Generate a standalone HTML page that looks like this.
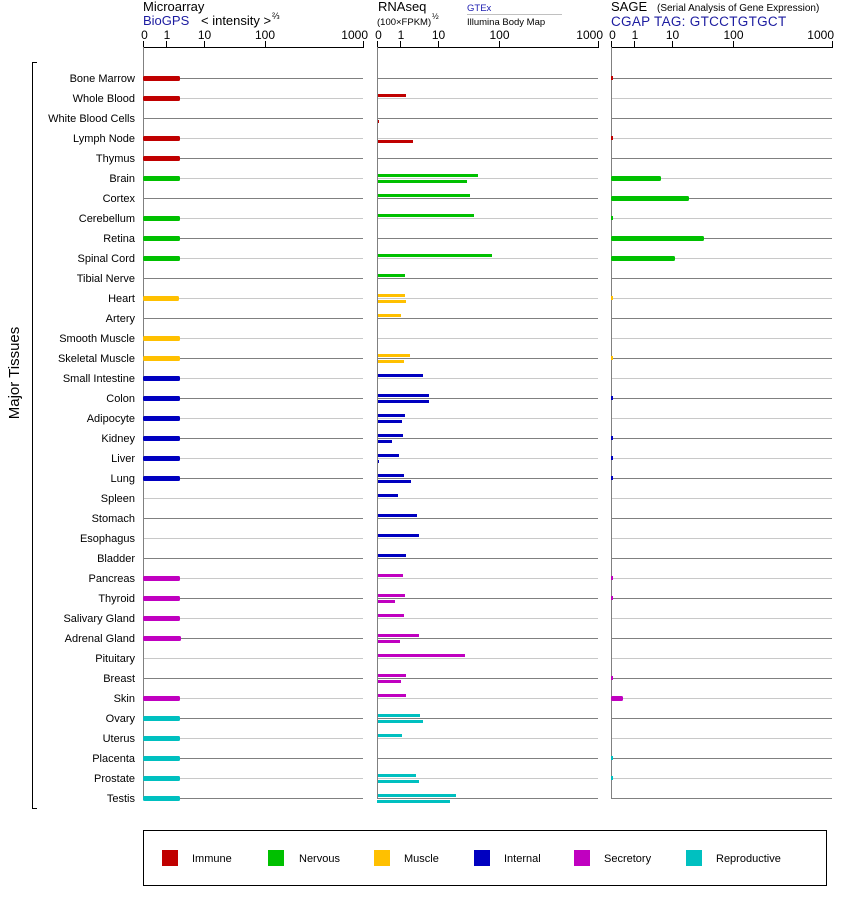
<!DOCTYPE html>
<html><head><meta charset="utf-8"><style>
html,body{margin:0;padding:0;background:#fff;}
svg{display:block;font-family:"Liberation Sans",Arial,sans-serif;}
</style></head><body>
<svg width="842" height="900" viewBox="0 0 842 900" xmlns="http://www.w3.org/2000/svg">
<rect x="0" y="0" width="842" height="900" fill="#fff"/>

<!-- Headers -->
<text x="143" y="11" font-size="13" fill="#000">Microarray</text>
<text x="143" y="25" font-size="13" fill="#1c1ca0">BioGPS</text>
<text x="201" y="25" font-size="13" fill="#000">&lt; intensity &gt;</text>
<text x="272" y="19" font-size="9" fill="#000">⅔</text>

<text x="378" y="11" font-size="13" fill="#000">RNAseq</text>
<text x="377" y="25" font-size="9.5" fill="#000">(100×FPKM)</text>
<text x="432" y="19" font-size="8" fill="#000">½</text>
<text x="467" y="11" font-size="9.5" fill="#1c1cb0">GTEx</text>
<line x1="467" y1="14.5" x2="562" y2="14.5" stroke="#c0c0c0" stroke-width="1"/>
<text x="467" y="25" font-size="9.5" fill="#000">Illumina Body Map</text>

<text x="611" y="11" font-size="13" fill="#000">SAGE</text>
<text x="657" y="11" font-size="10" fill="#000">(Serial Analysis of Gene Expression)</text>
<text x="611" y="26" font-size="13.5" fill="#1c1ca0" letter-spacing="0.3">CGAP TAG: GTCCTGTGCT</text>

<!-- Axes -->
<g stroke="#000" stroke-width="1" fill="none">
  <line x1="143" y1="47.5" x2="363.5" y2="47.5"/>
  <line x1="143.5" y1="41" x2="143.5" y2="48"/>
  <line x1="166.5" y1="41" x2="166.5" y2="48"/>
  <line x1="204.5" y1="41" x2="204.5" y2="48"/>
  <line x1="265.5" y1="41" x2="265.5" y2="48"/>
  <line x1="363.5" y1="41" x2="363.5" y2="48"/>

  <line x1="377" y1="47.5" x2="598.5" y2="47.5"/>
  <line x1="377.5" y1="41" x2="377.5" y2="48"/>
  <line x1="400.5" y1="41" x2="400.5" y2="48"/>
  <line x1="438.5" y1="41" x2="438.5" y2="48"/>
  <line x1="499.5" y1="41" x2="499.5" y2="48"/>
  <line x1="598.5" y1="41" x2="598.5" y2="48"/>

  <line x1="611" y1="47.5" x2="832.5" y2="47.5"/>
  <line x1="611.5" y1="41" x2="611.5" y2="48"/>
  <line x1="634.5" y1="41" x2="634.5" y2="48"/>
  <line x1="672.5" y1="41" x2="672.5" y2="48"/>
  <line x1="733.5" y1="41" x2="733.5" y2="48"/>
  <line x1="832.5" y1="41" x2="832.5" y2="48"/>
</g>
<g font-size="12" fill="#000" text-anchor="middle">
  <text x="144.5" y="39">0</text>
  <text x="167" y="39">1</text>
  <text x="204.5" y="39">10</text>
  <text x="265" y="39">100</text>
  <text x="368" y="39" text-anchor="end">1000</text>
  <text x="378.5" y="39">0</text>
  <text x="401" y="39">1</text>
  <text x="438.5" y="39">10</text>
  <text x="499.5" y="39">100</text>
  <text x="603" y="39" text-anchor="end">1000</text>
  <text x="612.5" y="39">0</text>
  <text x="635" y="39">1</text>
  <text x="672.5" y="39">10</text>
  <text x="733.5" y="39">100</text>
  <text x="834" y="39" text-anchor="end">1000</text>
</g>

<!-- Row lines -->
<g stroke-width="1">
<line x1="143" y1="78.5" x2="363" y2="78.5" stroke="#808080"/><line x1="378" y1="78.5" x2="598" y2="78.5" stroke="#808080"/><line x1="612" y1="78.5" x2="832" y2="78.5" stroke="#808080"/>
<line x1="143" y1="98.5" x2="363" y2="98.5" stroke="#c8c8c8"/><line x1="378" y1="98.5" x2="598" y2="98.5" stroke="#c8c8c8"/><line x1="612" y1="98.5" x2="832" y2="98.5" stroke="#c8c8c8"/>
<line x1="143" y1="118.5" x2="363" y2="118.5" stroke="#808080"/><line x1="378" y1="118.5" x2="598" y2="118.5" stroke="#808080"/><line x1="612" y1="118.5" x2="832" y2="118.5" stroke="#808080"/>
<line x1="143" y1="138.5" x2="363" y2="138.5" stroke="#c8c8c8"/><line x1="378" y1="138.5" x2="598" y2="138.5" stroke="#c8c8c8"/><line x1="612" y1="138.5" x2="832" y2="138.5" stroke="#c8c8c8"/>
<line x1="143" y1="158.5" x2="363" y2="158.5" stroke="#808080"/><line x1="378" y1="158.5" x2="598" y2="158.5" stroke="#808080"/><line x1="612" y1="158.5" x2="832" y2="158.5" stroke="#808080"/>
<line x1="143" y1="178.5" x2="363" y2="178.5" stroke="#c8c8c8"/><line x1="378" y1="178.5" x2="598" y2="178.5" stroke="#c8c8c8"/><line x1="612" y1="178.5" x2="832" y2="178.5" stroke="#c8c8c8"/>
<line x1="143" y1="198.5" x2="363" y2="198.5" stroke="#808080"/><line x1="378" y1="198.5" x2="598" y2="198.5" stroke="#808080"/><line x1="612" y1="198.5" x2="832" y2="198.5" stroke="#808080"/>
<line x1="143" y1="218.5" x2="363" y2="218.5" stroke="#c8c8c8"/><line x1="378" y1="218.5" x2="598" y2="218.5" stroke="#c8c8c8"/><line x1="612" y1="218.5" x2="832" y2="218.5" stroke="#c8c8c8"/>
<line x1="143" y1="238.5" x2="363" y2="238.5" stroke="#808080"/><line x1="378" y1="238.5" x2="598" y2="238.5" stroke="#808080"/><line x1="612" y1="238.5" x2="832" y2="238.5" stroke="#808080"/>
<line x1="143" y1="258.5" x2="363" y2="258.5" stroke="#c8c8c8"/><line x1="378" y1="258.5" x2="598" y2="258.5" stroke="#c8c8c8"/><line x1="612" y1="258.5" x2="832" y2="258.5" stroke="#c8c8c8"/>
<line x1="143" y1="278.5" x2="363" y2="278.5" stroke="#808080"/><line x1="378" y1="278.5" x2="598" y2="278.5" stroke="#808080"/><line x1="612" y1="278.5" x2="832" y2="278.5" stroke="#808080"/>
<line x1="143" y1="298.5" x2="363" y2="298.5" stroke="#c8c8c8"/><line x1="378" y1="298.5" x2="598" y2="298.5" stroke="#c8c8c8"/><line x1="612" y1="298.5" x2="832" y2="298.5" stroke="#c8c8c8"/>
<line x1="143" y1="318.5" x2="363" y2="318.5" stroke="#808080"/><line x1="378" y1="318.5" x2="598" y2="318.5" stroke="#808080"/><line x1="612" y1="318.5" x2="832" y2="318.5" stroke="#808080"/>
<line x1="143" y1="338.5" x2="363" y2="338.5" stroke="#c8c8c8"/><line x1="378" y1="338.5" x2="598" y2="338.5" stroke="#c8c8c8"/><line x1="612" y1="338.5" x2="832" y2="338.5" stroke="#c8c8c8"/>
<line x1="143" y1="358.5" x2="363" y2="358.5" stroke="#808080"/><line x1="378" y1="358.5" x2="598" y2="358.5" stroke="#808080"/><line x1="612" y1="358.5" x2="832" y2="358.5" stroke="#808080"/>
<line x1="143" y1="378.5" x2="363" y2="378.5" stroke="#c8c8c8"/><line x1="378" y1="378.5" x2="598" y2="378.5" stroke="#c8c8c8"/><line x1="612" y1="378.5" x2="832" y2="378.5" stroke="#c8c8c8"/>
<line x1="143" y1="398.5" x2="363" y2="398.5" stroke="#808080"/><line x1="378" y1="398.5" x2="598" y2="398.5" stroke="#808080"/><line x1="612" y1="398.5" x2="832" y2="398.5" stroke="#808080"/>
<line x1="143" y1="418.5" x2="363" y2="418.5" stroke="#c8c8c8"/><line x1="378" y1="418.5" x2="598" y2="418.5" stroke="#c8c8c8"/><line x1="612" y1="418.5" x2="832" y2="418.5" stroke="#c8c8c8"/>
<line x1="143" y1="438.5" x2="363" y2="438.5" stroke="#808080"/><line x1="378" y1="438.5" x2="598" y2="438.5" stroke="#808080"/><line x1="612" y1="438.5" x2="832" y2="438.5" stroke="#808080"/>
<line x1="143" y1="458.5" x2="363" y2="458.5" stroke="#c8c8c8"/><line x1="378" y1="458.5" x2="598" y2="458.5" stroke="#c8c8c8"/><line x1="612" y1="458.5" x2="832" y2="458.5" stroke="#c8c8c8"/>
<line x1="143" y1="478.5" x2="363" y2="478.5" stroke="#808080"/><line x1="378" y1="478.5" x2="598" y2="478.5" stroke="#808080"/><line x1="612" y1="478.5" x2="832" y2="478.5" stroke="#808080"/>
<line x1="143" y1="498.5" x2="363" y2="498.5" stroke="#c8c8c8"/><line x1="378" y1="498.5" x2="598" y2="498.5" stroke="#c8c8c8"/><line x1="612" y1="498.5" x2="832" y2="498.5" stroke="#c8c8c8"/>
<line x1="143" y1="518.5" x2="363" y2="518.5" stroke="#808080"/><line x1="378" y1="518.5" x2="598" y2="518.5" stroke="#808080"/><line x1="612" y1="518.5" x2="832" y2="518.5" stroke="#808080"/>
<line x1="143" y1="538.5" x2="363" y2="538.5" stroke="#c8c8c8"/><line x1="378" y1="538.5" x2="598" y2="538.5" stroke="#c8c8c8"/><line x1="612" y1="538.5" x2="832" y2="538.5" stroke="#c8c8c8"/>
<line x1="143" y1="558.5" x2="363" y2="558.5" stroke="#808080"/><line x1="378" y1="558.5" x2="598" y2="558.5" stroke="#808080"/><line x1="612" y1="558.5" x2="832" y2="558.5" stroke="#808080"/>
<line x1="143" y1="578.5" x2="363" y2="578.5" stroke="#c8c8c8"/><line x1="378" y1="578.5" x2="598" y2="578.5" stroke="#c8c8c8"/><line x1="612" y1="578.5" x2="832" y2="578.5" stroke="#c8c8c8"/>
<line x1="143" y1="598.5" x2="363" y2="598.5" stroke="#808080"/><line x1="378" y1="598.5" x2="598" y2="598.5" stroke="#808080"/><line x1="612" y1="598.5" x2="832" y2="598.5" stroke="#808080"/>
<line x1="143" y1="618.5" x2="363" y2="618.5" stroke="#c8c8c8"/><line x1="378" y1="618.5" x2="598" y2="618.5" stroke="#c8c8c8"/><line x1="612" y1="618.5" x2="832" y2="618.5" stroke="#c8c8c8"/>
<line x1="143" y1="638.5" x2="363" y2="638.5" stroke="#808080"/><line x1="378" y1="638.5" x2="598" y2="638.5" stroke="#808080"/><line x1="612" y1="638.5" x2="832" y2="638.5" stroke="#808080"/>
<line x1="143" y1="658.5" x2="363" y2="658.5" stroke="#c8c8c8"/><line x1="378" y1="658.5" x2="598" y2="658.5" stroke="#c8c8c8"/><line x1="612" y1="658.5" x2="832" y2="658.5" stroke="#c8c8c8"/>
<line x1="143" y1="678.5" x2="363" y2="678.5" stroke="#808080"/><line x1="378" y1="678.5" x2="598" y2="678.5" stroke="#808080"/><line x1="612" y1="678.5" x2="832" y2="678.5" stroke="#808080"/>
<line x1="143" y1="698.5" x2="363" y2="698.5" stroke="#c8c8c8"/><line x1="378" y1="698.5" x2="598" y2="698.5" stroke="#c8c8c8"/><line x1="612" y1="698.5" x2="832" y2="698.5" stroke="#c8c8c8"/>
<line x1="143" y1="718.5" x2="363" y2="718.5" stroke="#808080"/><line x1="378" y1="718.5" x2="598" y2="718.5" stroke="#808080"/><line x1="612" y1="718.5" x2="832" y2="718.5" stroke="#808080"/>
<line x1="143" y1="738.5" x2="363" y2="738.5" stroke="#c8c8c8"/><line x1="378" y1="738.5" x2="598" y2="738.5" stroke="#c8c8c8"/><line x1="612" y1="738.5" x2="832" y2="738.5" stroke="#c8c8c8"/>
<line x1="143" y1="758.5" x2="363" y2="758.5" stroke="#808080"/><line x1="378" y1="758.5" x2="598" y2="758.5" stroke="#808080"/><line x1="612" y1="758.5" x2="832" y2="758.5" stroke="#808080"/>
<line x1="143" y1="778.5" x2="363" y2="778.5" stroke="#c8c8c8"/><line x1="378" y1="778.5" x2="598" y2="778.5" stroke="#c8c8c8"/><line x1="612" y1="778.5" x2="832" y2="778.5" stroke="#c8c8c8"/>
<line x1="143" y1="798.5" x2="363" y2="798.5" stroke="#808080"/><line x1="378" y1="798.5" x2="598" y2="798.5" stroke="#808080"/><line x1="612" y1="798.5" x2="832" y2="798.5" stroke="#808080"/>
</g>

<!-- vertical axis lines -->
<g stroke="#808080" stroke-width="1">
<line x1="143.5" y1="47" x2="143.5" y2="800"/>
<line x1="377.5" y1="47" x2="377.5" y2="799"/>
<line x1="611.5" y1="47" x2="611.5" y2="799"/>
</g>

<!-- Row labels -->
<g font-size="11" fill="#000" text-anchor="end">
<text x="135" y="82">Bone Marrow</text>
<text x="135" y="102">Whole Blood</text>
<text x="135" y="122">White Blood Cells</text>
<text x="135" y="142">Lymph Node</text>
<text x="135" y="162">Thymus</text>
<text x="135" y="182">Brain</text>
<text x="135" y="202">Cortex</text>
<text x="135" y="222">Cerebellum</text>
<text x="135" y="242">Retina</text>
<text x="135" y="262">Spinal Cord</text>
<text x="135" y="282">Tibial Nerve</text>
<text x="135" y="302">Heart</text>
<text x="135" y="322">Artery</text>
<text x="135" y="342">Smooth Muscle</text>
<text x="135" y="362">Skeletal Muscle</text>
<text x="135" y="382">Small Intestine</text>
<text x="135" y="402">Colon</text>
<text x="135" y="422">Adipocyte</text>
<text x="135" y="442">Kidney</text>
<text x="135" y="462">Liver</text>
<text x="135" y="482">Lung</text>
<text x="135" y="502">Spleen</text>
<text x="135" y="522">Stomach</text>
<text x="135" y="542">Esophagus</text>
<text x="135" y="562">Bladder</text>
<text x="135" y="582">Pancreas</text>
<text x="135" y="602">Thyroid</text>
<text x="135" y="622">Salivary Gland</text>
<text x="135" y="642">Adrenal Gland</text>
<text x="135" y="662">Pituitary</text>
<text x="135" y="682">Breast</text>
<text x="135" y="702">Skin</text>
<text x="135" y="722">Ovary</text>
<text x="135" y="742">Uterus</text>
<text x="135" y="762">Placenta</text>
<text x="135" y="782">Prostate</text>
<text x="135" y="802">Testis</text>
</g>

<!-- Bracket and main label -->
<g stroke="#000" stroke-width="1" fill="none">
<polyline points="37,62.5 32.5,62.5 32.5,808.5 37,808.5"/>
</g>
<text transform="translate(19,373) rotate(-90)" font-size="15" text-anchor="middle" fill="#000">Major Tissues</text>

<!-- Microarray bars -->
<g>
<rect x="143" y="76" width="37" height="5" rx="1.5" fill="#c00000"/>
<rect x="143" y="96" width="37" height="5" rx="1.5" fill="#c00000"/>
<rect x="143" y="136" width="37" height="5" rx="1.5" fill="#c00000"/>
<rect x="143" y="156" width="37" height="5" rx="1.5" fill="#c00000"/>
<rect x="143" y="176" width="37" height="5" rx="1.5" fill="#00c000"/>
<rect x="143" y="216" width="37" height="5" rx="1.5" fill="#00c000"/>
<rect x="143" y="236" width="37" height="5" rx="1.5" fill="#00c000"/>
<rect x="143" y="256" width="37" height="5" rx="1.5" fill="#00c000"/>
<rect x="143" y="296" width="36" height="5" rx="1.5" fill="#ffc000"/>
<rect x="143" y="336" width="37" height="5" rx="1.5" fill="#ffc000"/>
<rect x="143" y="356" width="37" height="5" rx="1.5" fill="#ffc000"/>
<rect x="143" y="376" width="37" height="5" rx="1.5" fill="#0000c0"/>
<rect x="143" y="396" width="37" height="5" rx="1.5" fill="#0000c0"/>
<rect x="143" y="416" width="37" height="5" rx="1.5" fill="#0000c0"/>
<rect x="143" y="436" width="37" height="5" rx="1.5" fill="#0000c0"/>
<rect x="143" y="456" width="37" height="5" rx="1.5" fill="#0000c0"/>
<rect x="143" y="476" width="37" height="5" rx="1.5" fill="#0000c0"/>
<rect x="143" y="576" width="37" height="5" rx="1.5" fill="#c000c0"/>
<rect x="143" y="596" width="37" height="5" rx="1.5" fill="#c000c0"/>
<rect x="143" y="616" width="37" height="5" rx="1.5" fill="#c000c0"/>
<rect x="143" y="636" width="38" height="5" rx="1.5" fill="#c000c0"/>
<rect x="143" y="696" width="37" height="5" rx="1.5" fill="#c000c0"/>
<rect x="143" y="716" width="37" height="5" rx="1.5" fill="#00c0c0"/>
<rect x="143" y="736" width="37" height="5" rx="1.5" fill="#00c0c0"/>
<rect x="143" y="756" width="37" height="5" rx="1.5" fill="#00c0c0"/>
<rect x="143" y="776" width="37" height="5" rx="1.5" fill="#00c0c0"/>
<rect x="143" y="796" width="37" height="5" rx="1.5" fill="#00c0c0"/>
</g>

<!-- RNAseq bars (GTEx y=c-4, Illumina y=c+2) -->
<g>
<rect x="378" y="94" width="28" height="3" fill="#c00000"/>
<rect x="378" y="120" width="1" height="3" fill="#c00000"/>
<rect x="378" y="140" width="35" height="3" fill="#c00000"/>
<rect x="378" y="174" width="100" height="3" fill="#00c000"/>
<rect x="378" y="180" width="89" height="3" fill="#00c000"/>
<rect x="378" y="194" width="92" height="3" fill="#00c000"/>
<rect x="378" y="214" width="96" height="3" fill="#00c000"/>
<rect x="378" y="254" width="114" height="3" fill="#00c000"/>
<rect x="378" y="274" width="27" height="3" fill="#00c000"/>
<rect x="378" y="294" width="27" height="3" fill="#ffc000"/>
<rect x="378" y="300" width="28" height="3" fill="#ffc000"/>
<rect x="378" y="314" width="23" height="3" fill="#ffc000"/>
<rect x="378" y="354" width="32" height="3" fill="#ffc000"/>
<rect x="378" y="360" width="26" height="3" fill="#ffc000"/>
<rect x="378" y="374" width="45" height="3" fill="#0000c0"/>
<rect x="378" y="394" width="51" height="3" fill="#0000c0"/>
<rect x="378" y="400" width="51" height="3" fill="#0000c0"/>
<rect x="378" y="414" width="27" height="3" fill="#0000c0"/>
<rect x="378" y="420" width="24" height="3" fill="#0000c0"/>
<rect x="378" y="434" width="25" height="3" fill="#0000c0"/>
<rect x="378" y="440" width="14" height="3" fill="#0000c0"/>
<rect x="378" y="454" width="21" height="3" fill="#0000c0"/>
<rect x="378" y="460" width="1" height="3" fill="#0000c0"/>
<rect x="378" y="474" width="26" height="3" fill="#0000c0"/>
<rect x="378" y="480" width="33" height="3" fill="#0000c0"/>
<rect x="378" y="494" width="20" height="3" fill="#0000c0"/>
<rect x="378" y="514" width="39" height="3" fill="#0000c0"/>
<rect x="378" y="534" width="41" height="3" fill="#0000c0"/>
<rect x="378" y="554" width="28" height="3" fill="#0000c0"/>
<rect x="378" y="574" width="25" height="3" fill="#c000c0"/>
<rect x="378" y="594" width="27" height="3" fill="#c000c0"/>
<rect x="378" y="600" width="17" height="3" fill="#c000c0"/>
<rect x="378" y="614" width="26" height="3" fill="#c000c0"/>
<rect x="378" y="634" width="41" height="3" fill="#c000c0"/>
<rect x="378" y="640" width="22" height="3" fill="#c000c0"/>
<rect x="378" y="654" width="87" height="3" fill="#c000c0"/>
<rect x="378" y="674" width="28" height="3" fill="#c000c0"/>
<rect x="378" y="680" width="23" height="3" fill="#c000c0"/>
<rect x="378" y="694" width="28" height="3" fill="#c000c0"/>
<rect x="378" y="714" width="42" height="3" fill="#00c0c0"/>
<rect x="378" y="720" width="45" height="3" fill="#00c0c0"/>
<rect x="378" y="734" width="24" height="3" fill="#00c0c0"/>
<rect x="378" y="774" width="38" height="3" fill="#00c0c0"/>
<rect x="378" y="780" width="41" height="3" fill="#00c0c0"/>
<rect x="378" y="794" width="78" height="3" fill="#00c0c0"/>
<rect x="377" y="800" width="73" height="3" fill="#00c0c0"/>
</g>

<!-- SAGE bars -->
<g>
<rect x="611" y="76" width="2" height="4" fill="#c00000"/>
<rect x="611" y="136" width="2" height="4" fill="#c00000"/>
<rect x="611" y="176" width="50" height="5" rx="1.5" fill="#00c000"/>
<rect x="611" y="196" width="78" height="5" rx="1.5" fill="#00c000"/>
<rect x="611" y="216" width="2" height="4" fill="#00c000"/>
<rect x="611" y="236" width="93" height="5" rx="1.5" fill="#00c000"/>
<rect x="611" y="256" width="64" height="5" rx="1.5" fill="#00c000"/>
<rect x="611" y="296" width="2" height="4" fill="#ffc000"/>
<rect x="611" y="356" width="2" height="4" fill="#ffc000"/>
<rect x="611" y="396" width="2" height="4" fill="#0000c0"/>
<rect x="611" y="436" width="2" height="4" fill="#0000c0"/>
<rect x="611" y="456" width="2" height="4" fill="#0000c0"/>
<rect x="611" y="476" width="2" height="4" fill="#0000c0"/>
<rect x="611" y="576" width="2" height="4" fill="#c000c0"/>
<rect x="611" y="596" width="2" height="4" fill="#c000c0"/>
<rect x="611" y="676" width="2" height="4" fill="#c000c0"/>
<rect x="611" y="696" width="12" height="5" rx="1.5" fill="#c000c0"/>
<rect x="611" y="756" width="2" height="4" fill="#00c0c0"/>
<rect x="611" y="776" width="2" height="4" fill="#00c0c0"/>
</g>

<!-- Legend -->
<rect x="143.5" y="830.5" width="683" height="55" fill="none" stroke="#000" stroke-width="1"/>
<g font-size="11" fill="#000">
<rect x="162" y="850" width="16" height="16" fill="#c00000"/>
<text x="192" y="862">Immune</text>
<rect x="268" y="850" width="16" height="16" fill="#00c000"/>
<text x="299" y="862">Nervous</text>
<rect x="374" y="850" width="16" height="16" fill="#ffc000"/>
<text x="404" y="862">Muscle</text>
<rect x="474" y="850" width="16" height="16" fill="#0000c0"/>
<text x="504" y="862">Internal</text>
<rect x="574" y="850" width="16" height="16" fill="#c000c0"/>
<text x="604" y="862">Secretory</text>
<rect x="686" y="850" width="16" height="16" fill="#00c0c0"/>
<text x="716" y="862">Reproductive</text>
</g>
</svg>
</body></html>
